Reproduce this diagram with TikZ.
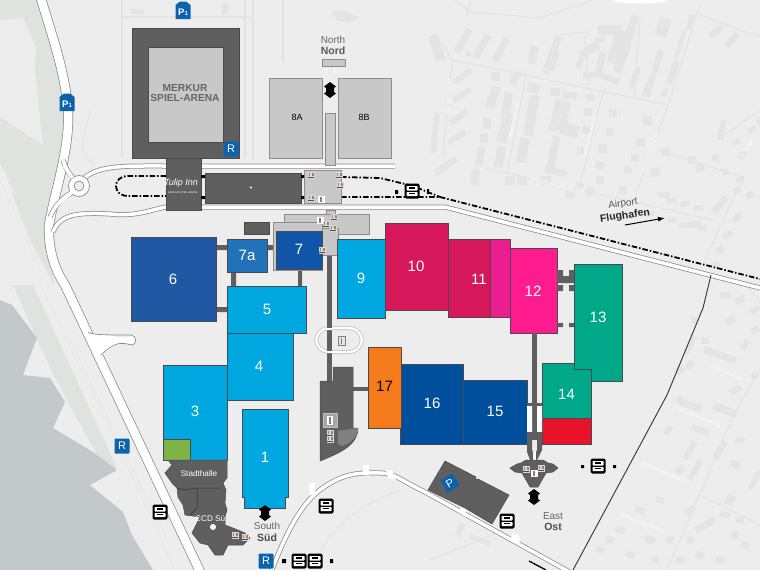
\documentclass[tikz,border=0pt]{standalone}
\usepackage{fontspec}
\setmainfont{Liberation Sans}
\usetikzlibrary{arrows.meta}
\definecolor{bgc}{HTML}{EDEDED}
\definecolor{darkb}{HTML}{5F5F5F}
\definecolor{lightb}{HTML}{C8C8C8}
\definecolor{edgec}{HTML}{4A4A4A}
\definecolor{waterc}{HTML}{C3C8CA}
\definecolor{paleg}{HTML}{DEE3E0}
\definecolor{blk}{HTML}{E4E4E4}
\definecolor{fnt}{HTML}{E3E3E3}
\definecolor{roade}{HTML}{8C8C8C}
\definecolor{sky}{HTML}{00A7E1}
\definecolor{navy}{HTML}{004F9C}
\definecolor{crim}{HTML}{D6185A}
\definecolor{hotp}{HTML}{FF1C8F}
\definecolor{tealc}{HTML}{00A88A}
\definecolor{piconc}{HTML}{0B62AE}
\tikzset{
 x=1pt,y=-1pt,
 hall/.style={draw=edgec,line width=0.7pt},
 hnum/.style={text=white,font=\fontsize{15}{15}\selectfont,inner sep=0pt},
 dk/.style={fill=darkb,draw=edgec,line width=0.5pt},
 lt/.style={fill=lightb,draw=roade,line width=0.7pt},
 faintroad/.style={draw=fnt,line width=1.1pt},
 stlabel/.style={text=white,font=\fontsize{4.6}{5}\selectfont,inner sep=0pt},
 shuttle/.style={line width=1.8pt,black,dash pattern=on 5.5pt off 2pt on 1.5pt off 2pt},
 capn/.style={text=#1,inner sep=0pt,font=\fontsize{10}{10}\selectfont},
 capbn/.style={text=#1,inner sep=0pt,font=\fontsize{10.5}{10.5}\bfseries\selectfont},
}
\newcommand\roadpath[2]{\draw[roade,line width=#1pt,line join=round] #2; \draw[white,line width=#1pt-1.5pt,line join=round] #2;}
\newcommand\busicon[2]{\begin{scope}[shift={(#1,#2)}]
 \fill[black,rounded corners=1.5pt] (-7.5,-7.5) rectangle (7.5,7.5);
 \fill[white,rounded corners=0.6pt] (-5.5,-5) rectangle (5.5,-0.5);
 \fill[black] (-3,-3.6) rectangle (3,-2);
 \fill[white,rounded corners=0.6pt] (-5.5,1) rectangle (5.5,5);
 \fill[black] (-3,1.8) rectangle (3,3.2);
 \end{scope}}
\newcommand\picon[4]{% x y w label
 \fill[piconc,rounded corners=1pt] (#1-#3/2,#2-#3/2) rectangle (#1+#3/2,#2+#3/2);
 \node[text=white,inner sep=0pt,font=\fontsize{11}{11}\selectfont] at (#1,#2) {#4};}
\newcommand\ptag[2]{\fill[piconc] (#1-7.5,#2-6) -- (#1-3,#2-9.5) -- (#1+3,#2-9.5) -- (#1+7.5,#2-6) -- (#1+7.5,#2+8) -- (#1-7.5,#2+8) -- cycle;
 \node[text=white,inner sep=0pt,font=\fontsize{9.5}{10}\bfseries\selectfont] at (#1,#2+1) {P\raisebox{-0.5pt}{\fontsize{6}{6}\selectfont 1}};}
\newcommand\lifticon[2]{\fill[white!85!black] (#1-3.5,#2-3.5) rectangle (#1+3.5,#2+3.5); \fill[brown!50!gray] (#1-2.5,#2-2.5) rectangle (#1-0.7,#2+1); \fill[brown!50!gray] (#1+0.7,#2-2.5) rectangle (#1+2.5,#2+1); \fill[black!70] (#1-3,#2+2) rectangle (#1+3,#2+3);}
\newcommand\whiteicon[2]{\fill[white] (#1-3.5,#2-3.5) rectangle (#1+3.5,#2+3.5); \fill[gray] (#1-0.8,#2-2.5) rectangle (#1+0.8,#2+2.5);}
\newcommand\entrance[2]{\fill[black] (#1,#2-8) -- (#1+6,#2-3.5) -- (#1+4,#2-2) -- (#1+4,#2+2) -- (#1+6,#2+3.5) -- (#1,#2+8) -- (#1-6,#2+3.5) -- (#1-4,#2+2) -- (#1-4,#2-2) -- (#1-6,#2-3.5) -- cycle;}
\begin{document}
\begin{tikzpicture}
\useasboundingbox (0,0) rectangle (760,570);
\fill[bgc] (0,0) rectangle (760,570);
% west land
\fill[paleg] (0,0) -- (40,0) -- (67,93) -- (68,127) -- (50,217) -- (54,285) -- (30,240) -- (0,163) -- cycle;
\fill[bgc!90!paleg] (0,20) -- (23,18) -- (36,48) -- (35,70) -- (43,145) -- (0,117) -- cycle;
\fill[paleg] (13,285) -- (33,285) -- (117,468) -- (105,470) -- (50,368) -- cycle;
\draw[fnt] (0,180) -- (40,270); \draw[fnt] (40,285)--(120,450)--(175,570); \draw[fnt] (70,340)--(165,535);
\fill[waterc] (0,300) -- (12,305) -- (37,338) -- (23,375) -- (50,378) -- (65,402) -- (53,428) -- (93,452) -- (117,470) -- (90,485) -- (123,512) -- (132,535) -- (153,570) -- (0,570) -- cycle;
% faint roads near arena
\draw[faintroad,line width=1.5pt] (122,0) -- (122,158) (122,17) -- (250,17) (253,0) -- (253,160) (283,0) -- (283,62) (245,0)--(245,158);
\fill[blk] (131,9) rectangle (144,14) (222,3) rectangle (228,14) (332,11) -- (345,10) -- (358,18) -- (348,23) -- (336,20) -- cycle;
\draw[fnt,line width=0.8pt] (90,110) .. controls (85,140) and (75,150) .. (95,165);
% residential streets
\draw[faintroad] (455,0) -- (470,12) -- (540,18) -- (593,0);
\draw[faintroad] (470,0) -- (467,16);
\draw[faintroad] (443,43) -- (452,62) -- (443,157);
\draw[faintroad] (452,60) -- (668,105);
\draw[faintroad] (700,5) -- (668,105) -- (635,197);
\draw[faintroad] (527,70) -- (507,173);
\draw[faintroad] (604,88) -- (580,185);
\draw[faintroad] (485,168) -- (713,220);
\draw[faintroad] (657,150) -- (743,177) -- (705,260);
\draw[faintroad] (700,15) -- (760,37);
\draw[faintroad] (558,35) -- (588,32) (585,35)--(588,85) (640,20) -- (634,95);
\draw[faintroad] (725,135)--(760,110);
\draw[faintroad] (700,495) -- (760,525) (737,408) -- (667,570) (760,370) -- (737,408);
\draw[faintroad] (745,285) -- (760,300);
% residential blocks
\foreach \x/\y/\a/\w/\h in {
437/48/108/27/10, 463/41/60/26/7, 482/46/60/26/7, 501/50/60/26/7,
463/76/35/20/6, 462/95/35/20/6, 459/117/35/20/6, 457/137/35/20/6, 446/166/35/25/7,
435/133/-85/40/6, 468/53/0/5/5, 495/76/0/9/9, 493/97/-70/22/9, 487/123/0/8/11, 484/138/0/8/9, 480/157/-80/20/7, 475/177/-85/16/8,
515/78/60/14/7, 507/105/-80/25/9, 505/128/-75/30/10, 500/157/-80/22/9,
533/55/-80/18/8, 533/88/-70/10/12, 533/105/-80/20/10, 530/125/-80/22/10, 523/150/-80/25/10, 
552/55/70/40/7, 555/92/0/10/8, 556/115/-75/32/8, 553/155/-80/38/8, 548/170/0/6/6,
552/60/-75/20/10, 545/180/0/11/9, 510/180/0/10/9, 570/95/0/14/7, 565/113/-80/22/7, 562/125/10/14/8,
570/130/-75/12/18, 558/172/-15/18/6, 522/180/0/10/9,
600/40/20/10/6, 589/50/-30/22/8, 580/62/-70/12/6, 590/75/0/14/6,
610/30/0/25/10, 617/47/-75/34/12, 600/65/-75/25/7, 608/78/-20/24/6,
630/32/70/35/8, 622/58/-70/30/9, 635/77/-70/22/6, 
663/27/-70/18/12, 655/70/-72/42/6, 648/90/-70/14/8,
690/22/-72/16/5, 680/45/-72/30/4, 673/72/-70/24/6, 665/92/-70/8/5, 
716/31/-40/16/6, 732/40/-50/18/6, 
590/97/0/8/7, 588/112/0/8/8, 586/130/0/8/8, 580/150/0/7/7,
613/113/0/8/8, 610/132/0/8/8, 602/148/0/9/9, 600/165/-10/9/8,
647/120/0/9/9, 640/142/0/9/8, 635/158/0/8/8, 628/170/0/8/8, 623/190/0/8/8,
600/180/0/8/8, 590/192/0/8/8, 570/195/-10/9/7, 580/187/-10/7/7, 
655/172/10/10/8, 665/152/0/9/8, 692/160/0/8/8, 715/157/0/7/7,
700/168/15/9/7, 725/172/0/7/6, 740/180/0/8/6,
664/195/0/12/6, 672/201/10/9/5, 685/204/10/9/5, 698/208/10/9/5,
720/205/-50/20/7, 650/214/10/8/5, 672/220/5/8/5, 690/225/5/22/6, 702/228/5/8/6,
722/130/-80/20/6, 742/155/50/9/6, 752/130/30/8/5, 736/142/30/8/5, 760/120/30/8/5,
737/190/-30/8/6, 750/195/-30/8/6, 737/218/-40/10/6, 728/235/-30/10/6, 720/250/-30/8/6, 715/265/-30/8/6,
725/295/0/10/6, 740/300/-30/10/6, 730/320/-30/10/6, 755/310/-30/10/6, 755/330/-30/8/6,
695/320/0/8/7, 690/345/-60/20/6, 680/370/-40/9/7, 
705/340/0/8/7, 720/355/-20/35/7, 690/405/-20/24/7, 680/400/-45/8/8, 668/430/-40/10/6,
745/345/-60/10/6, 735/390/-30/12/6, 755/375/-45/8/6, 690/365/-60/8/7,
725/410/-20/25/8, 700/430/-20/18/6, 740/440/-20/9/6, 690/450/-60/20/6, 680/470/-40/8/7,
720/450/-60/20/6, 695/470/-60/22/6, 735/465/-20/10/7, 730/500/-60/10/8, 755/480/-60/20/5,
660/500/-20/8/6, 640/510/-20/10/6, 620/530/-20/10/6, 610/540/-20/8/7, 600/550/-20/8/6,
690/510/-40/10/6, 705/525/-30/22/7, 725/515/-20/10/6, 740/520/-20/8/6,
650/540/-20/10/7, 670/540/-20/8/6, 690/540/-20/8/6, 700/555/-20/8/7, 720/560/-20/8/6, 745/545/-20/8/6,
630/555/-20/8/6, 655/560/-20/8/6, 680/560/-20/8/6, 735/535/-60/8/6,
460/530/-70/14/6, 480/540/-20/22/5}
 {\pgfmathsetmacro\b{\a<-25?-\a:\a}\fill[blk,shift={(\x,\y)},rotate=\b] (-\w/2,-\h/2) rectangle (\w/2,\h/2);}
\fill[white] (640,0) ellipse [x radius=27pt,y radius=3.5pt];
\draw[fnt,line width=0.8pt] (430,560) -- (500,532) (310,570) .. controls (330,530) and (350,510) .. (400,490);
% street labels
\node[stlabel,rotate=-94] (sl1) at (449,97) {HEYMSTRASSE};
\node[stlabel,rotate=-103] (sl2) at (514,122) {RILKESTRASSE};
\node[stlabel,rotate=-105] (sl3) at (590,137) {NOVALISSTRASSE};
\node[stlabel,rotate=-108] (sl4) at (651,153) {MÖRIKESTRASSE};
\node[stlabel,rotate=-12] (sl5) at (558,185) {DROSTE-HÜLSHOFF-STR.};
\node[stlabel,rotate=50] (sl6) at (747,148) {STRASSE};
\node[stlabel,rotate=-24] (sl7) at (725,372) {LILIENSTRASSE};
\node[stlabel,rotate=-22] (sl8) at (700,418) {HOLUNDERSTRASSE};
\node[stlabel,rotate=-22] (sl9) at (665,473) {BEGONIENSTRASSE};
\node[stlabel,rotate=-22] (sl10) at (642,523) {GLADIOLENSTRASSE};
% roads
\roadpath{10}{(40,-5) .. controls (50,30) and (65,70) .. (68,110) .. controls (70,150) and (55,190) .. (49,225) .. controls (48,250) and (55,270) .. (65,285) -- (203,578)}
\roadpath{5}{(63,160) .. controls (66,170) and (70,175) .. (75,180)}
\roadpath{5}{(50,217) .. controls (55,205) and (65,195) .. (74,192)}
\roadpath{5}{(84,178) .. controls (100,165) and (125,166) .. (166,166) -- (395,166)}
\roadpath{5}{(53,232) .. controls (60,215) and (75,212) .. (110,214) .. controls (135,217) and (150,210) .. (166,207) -- (445,207) -- (760,288)}
\fill[white,draw=roade,line width=0.7pt] (79,186) circle (10.5pt);
\fill[bgc,draw=roade,line width=0.7pt] (79,186) circle (5pt);
\draw[white,line width=3.5pt] (64,165) -- (72,178) (56,206) -- (72,192);
\fill[white] (90,333) -- (125,338) -- (135,335) -- (135,345) -- (120,342) -- (101,356) -- (88,332) -- cycle;
\draw[roade,line width=0.7pt] (88,332) .. controls (90,335) and (110,335) .. (131,335) .. controls (137,335) and (137,345) .. (132,345) .. controls (120,342) and (115,342) .. (101,355);
\roadpath{5}{(270,575) .. controls (285,535) and (300,505) .. (320,490) .. controls (340,475) and (355,472) .. (380,473) .. controls (395,473) and (400,480) .. (425,492) -- (575,575)}
\fill[white] (309,483) rectangle (315,495) (363,465) rectangle (369,475) (386,470)--(392,470)--(396,480)--(388,478)--cycle (461,507)--(466,509)--(466,517)--(459,513)--cycle (513,533)--(519,535)--(520,545)--(511,538)--cycle;
% east boundary
\draw[black!80,line width=0.9pt] (711,275) -- (703,308) -- (667,395) -- (573,570);
\draw[black,line width=1.3pt] (529,561) -- (546,570);
% shuttle route
\draw[shuttle] (166,176) -- (128,176) .. controls (112,176) and (112,196) .. (128,196) -- (166,196);
\draw[shuttle] (341,177) -- (380,178) -- (413,186) -- (440,197);
\draw[shuttle] (341,197) -- (440,197) -- (760,279);
% corridors
\fill[darkb] (216,245) rectangle (227,250) (267,245) rectangle (276,250) (231,272) rectangle (236,286) (298,270) rectangle (302,286) (216,307) rectangle (227,312);
\fill[darkb] (353,387) rectangle (368,391);
\fill[darkb] (327,256) rectangle (332,382);
\fill[lightb,draw=roade,line width=0.6pt] (325,113) rectangle (335,165);
\fill[lightb,draw=roade,line width=0.6pt] (326,210) rectangle (335,214);
% ring
\draw[lightb,line width=4pt,fill=bgc,rounded corners=13pt] (316,328) rectangle (362,352);
\draw[white,line width=2.2pt,rounded corners=13pt] (316,328) rectangle (362,352);
\fill[darkb] (327,320) rectangle (332,360);
\fill[white] (327,328) rectangle (332,330) (327,351) rectangle (332,353);
\fill[white!90!black,draw=gray,line width=0.4pt] (338,336) rectangle (345,345);
\fill[gray] (340.5,338) rectangle (342,344);
% arena
\fill[dk] (132,28) rectangle (239,158);
\fill[lightb,draw=edgec,line width=0.7pt] (148,47) rectangle (223,142);
\node[capbn={black!60},font=\fontsize{10.2}{10.2}\bfseries\selectfont] (ar1) at (185,88.5) {MERKUR};
\node[capbn={black!60},font=\fontsize{10.2}{10.2}\bfseries\selectfont] (ar2) at (185,98) {SPIEL-ARENA};
\picon{231}{149}{15}{R}
\fill[dk] (166,158) rectangle (201,210);
\node[text=white,inner sep=0pt,font=\fontsize{9}{9}\itshape\selectfont] (tulip) at (181,183) {Tulip Inn};
\node[text=white,inner sep=0pt,font=\fontsize{2.6}{3}\selectfont] (tulip2) at (183,193) {MERKUR SPIEL-ARENA};
% NE buildings
\fill[lt] (269,78) rectangle (322,158);
\fill[lt] (338,78) rectangle (391,158);
\node[inner sep=0pt,font=\fontsize{9}{9}\selectfont] (h8a) at (297,117) {8A};
\node[inner sep=0pt,font=\fontsize{9}{9}\selectfont] (h8b) at (364,117) {8B};
\fill[lt] (322,59) rectangle (345,66);
\draw[white,line width=1pt] (326,68)--(326,73) (334,68)--(334,73);
\fill[darkb] (205,173) rectangle (301,203);
\draw[edgec,line width=0.6pt] (205,173) rectangle (301,203);
\fill[white] (251,187.5) circle (1.2pt);
\fill[lightb,draw=roade,line width=0.7pt] (304,170) rectangle (341,203);
\fill[black] (301,175) rectangle (304,178) (301,196) rectangle (304,199) (201,175) rectangle (205,178) (201,196) rectangle (205,199);
\fill[lightb,draw=roade,line width=0.7pt] (284,214) rectangle (369,234);
\fill[dk] (244,222) rectangle (269,234);
\fill[lightb,draw=roade,line width=0.7pt] (273,222) rectangle (322,270);
\fill[lightb,draw=roade,line width=0.7pt] (322,228) rectangle (338,255);
% halls
\fill[hall,fill={rgb,255:red,33;green,88;blue,163}] (131,237) rectangle (216,321);
\node[hnum] (h6) at (173,279) {6};
\fill[hall,fill={rgb,255:red,34;green,114;blue,186}] (227,239) rectangle (267,272);
\node[hnum] (h7a) at (247,255.5) {7a};
\fill[hall,fill={rgb,255:red,17;green,85;blue,168}] (276,231) rectangle (322,269);
\node[hnum] (h7) at (299,249) {7};
\fill[hall,fill=sky] (227,286) rectangle (306,333);
\node[hnum] (h5) at (267,309.5) {5};
\fill[hall,fill=sky] (227,333) rectangle (293,400);
\node[hnum] (h4) at (259,366.5) {4};
\fill[hall,fill=sky] (163,365) rectangle (227,460);
\node[hnum] (h3) at (195,411) {3};
\fill[hall,fill={rgb,255:red,126;green,179;blue,71}] (163,439) rectangle (190,460);
\fill[hall,fill=sky] (242,409) -- (288,409) -- (288,497) -- (285,497) -- (285,508) -- (244,508) -- (244,497) -- (242,497) -- cycle;
\node[hnum] (h1) at (265,457) {1};
\fill[hall,fill=sky] (337,239) rectangle (385,318);
\node[hnum] (h9) at (361,278) {9};
\fill[hall,fill=crim] (385,223) rectangle (448,310);
\node[hnum] (h10) at (416,266) {10};
\fill[hall,fill=crim] (448,239) rectangle (490,317);
\node[hnum] (h11) at (479,279) {11};
\fill[hall,fill={rgb,255:red,234;green,30;blue,142}] (490,239) rectangle (510,317);
\fill[hall,fill=hotp] (510,248) rectangle (557,333);
\node[hnum] (h12) at (533,291) {12};
% 12-13 links
\fill[darkb] (557,270) -- (563,270) -- (563,276) -- (569,276) -- (569,270) -- (574,270) -- (574,283) -- (557,283) -- cycle;
\fill[darkb] (557,285) rectangle (563,291) (569,285) rectangle (574,291) (557,323) rectangle (563,327) (569,323) rectangle (574,327);
\fill[hall,fill=tealc] (574,264) rectangle (622,381);
\node[hnum] (h13) at (598,317) {13};
\fill[hall,fill=tealc] (542,363) -- (574,363) -- (574,369) -- (591,369) -- (591,418) -- (542,418) -- cycle;
\node[hnum] (h14) at (566.5,394) {14};
\fill[hall,fill={rgb,255:red,232;green,19;blue,42}] (542,418) rectangle (591,444);
\fill[hall,fill=navy] (463,380) rectangle (527,444);
\node[hnum] (h15) at (495,411) {15};
\fill[hall,fill=navy] (400,364) rectangle (463,444);
\node[hnum] (h16) at (432,403) {16};
\fill[hall,fill={rgb,255:red,244;green,122;blue,27}] (368,347) rectangle (401,428);
\node[hnum,text=black] (h17) at (384.5,386) {17};
% south-centre building
\fill[dk] (320,381) -- (333,381) -- (333,367) -- (353,367) -- (353,428) -- (358,428) .. controls (358,445) and (340,453) .. (320,461) -- cycle;
\fill[black!50] (338,431) -- (358,428) .. controls (358,438) and (350,443) .. (342,446) -- (338,444) -- cycle;
\fill[black!35,draw=black!25] (323,413) rectangle (337,427);
\fill[white] (327,416) rectangle (333,425);
\fill[gray] (329,417) rectangle (331,424);
\lifticon{330}{433}
\lifticon{330}{439}
% east corridor and entrance
\fill[darkb] (527,403) rectangle (542,406);
\fill[darkb] (532,333) rectangle (537,440);
\fill[white] (527,406) rectangle (532,432) (537,406) rectangle (542,432);
\fill[darkb] (537,432) -- (542,432) -- (542,450) -- (537,460) -- (532,460) -- (537,450) -- cycle;
\fill[darkb] (527,432) -- (532,432) -- (532,450) -- (537,460) -- (530,460) -- (527,452) -- cycle;
\fill[white] (533,452) rectangle (536,460);
\fill[dk] (510,468) -- (517,464) -- (521,463) -- (526,460) -- (543,460) -- (548,463) -- (553,464) -- (558,468) -- (553,472) -- (546,473) -- (538,487) -- (530,487) -- (522,473) -- (515,472) -- cycle;
\lifticon{526}{469}
\lifticon{541}{468}
\whiteicon{534}{473}
\entrance{534}{497}
\fill[black] (581,465) rectangle (584,468) (613,465) rectangle (616,468);
\fill[dk] (445,461) -- (476,477) -- (475,480) -- (478,479) -- (509,495) -- (492,524) -- (465,508) -- (463,507) -- (428,490) -- cycle;
\fill[piconc,rotate around={30:(450,483)}] (443,476) rectangle (457,490);
\node[text=white,rotate=30,inner sep=0pt,font=\fontsize{11}{11}\selectfont] (pk) at (450,483) {P};
% stadthalle
\fill[dk] (168,460) -- (227,460) -- (227,478) -- (223,483) -- (226,490) -- (225,503) -- (227,510) -- (225,517) -- (225,525) -- (233,528) -- (245,533) -- (250,538) -- (243,545) -- (228,545) -- (223,555) -- (215,555) -- (208,545) -- (200,543) -- (192,533) -- (200,517) -- (185,515) -- (183,505) -- (178,497) -- (177,488) -- (172,483) -- (165,473) -- (172,465) -- cycle;
\draw[edgec!70!black,line width=0.5pt] (177,488) -- (185,490) -- (195,488) -- (221,488) (197,488) -- (198,507) -- (190,515);
\fill[white] (213,527) circle (3pt);
\node[text=white,inner sep=0pt,font=\fontsize{8.2}{8.2}\selectfont] (st) at (199,474) {Stadthalle};
\node[text=white,inner sep=0pt,anchor=west,font=\fontsize{8.2}{8.2}\selectfont] (ccd) at (195,519) {CCD Sü};
\lifticon{235}{535}
\lifticon{245}{537}
\entrance{265}{513}
% service rooms
\lifticon{311}{175} \lifticon{339}{175} \lifticon{340}{185} \lifticon{311}{198} \whiteicon{321}{199}
\whiteicon{320}{220} \lifticon{334}{217} \lifticon{326}{224} \lifticon{333}{228} \lifticon{322}{250}
% entrances north
\entrance{330}{90}
\fill[bgc] (323,88) rectangle (325,92) (335,88) rectangle (337,92);
% parkings
\ptag{183}{11}
\ptag{67}{103}
\picon{122}{446}{15}{R}
\picon{266}{561}{15}{R}
\busicon{412}{191} \busicon{160}{512} \busicon{326}{506} \busicon{299}{561} \busicon{315}{561} \busicon{598}{466} \busicon{507}{521}
\fill[black] (282,559) rectangle (286,563) (330,559) rectangle (333,563) (395,190) rectangle (398,194) (427,189) rectangle (429,194);
% labels
\node[capn={black!60}] (n1) at (333,40) {North};
\node[capbn={black!65}] (n2) at (333,50.5) {Nord};
\node[capn={black!60}] (s1) at (267,526) {South};
\node[capbn={black!70}] (s2) at (267,538) {Süd};
\node[capn={black!60}] (e1) at (553,516) {East};
\node[capbn={black!70}] (e2) at (553,527) {Ost};
\node[capn={black!65},rotate=8] (a1) at (623,204) {Airport};
\node[capbn={black!85},rotate=8] (a2) at (625,216) {Flughafen};
\coordinate (ar0) at (625,225); \coordinate (ar3) at (665,218);
\draw[black,line width=1pt,-{Latex[length=7pt,width=5pt]}] (ar0) -- (ar3);
\node[stlabel,rotate=-80,text=white] (t1) at (63,72) {TRIBÜNEN};
\node[stlabel,rotate=-65,text=white] (t2) at (8,182) {ER DEICH};
\end{tikzpicture}
\end{document}
